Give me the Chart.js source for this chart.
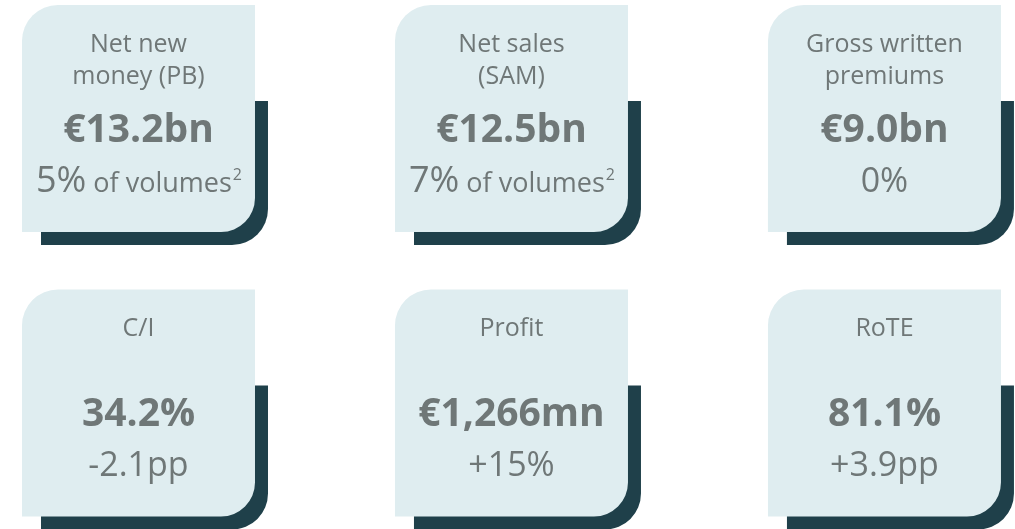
<!DOCTYPE html>
<html>
<head>
<meta charset="utf-8">
<script src="https://cdn.jsdelivr.net/npm/chart.js@4/dist/chart.umd.min.js"></script>
<style>
  html, body { margin: 0; padding: 0; background: #ffffff; }
  #wrap { width: 1015px; height: 529px; position: relative; }
</style>
</head>
<body>
<div id="wrap"><canvas id="myChart"></canvas></div>
<script>
// KPI cards: one point per card, placed on a 3 x 2 grid
var cardColumns = [0, 1, 2, 0, 1, 2];
var cardRows = [0, 0, 0, 1, 1, 1];
var cardTitles = [['Net new', 'money (PB)'], ['Net sales', '(SAM)'], ['Gross written', 'premiums'], ['C/I'], ['Profit'], ['RoTE']];
var cardValues = ['€13.2bn', '€12.5bn', '€9.0bn', '34.2%', '€1,266mn', '81.1%'];
var cardChanges = ['5%', '7%', '0%', '-2.1pp', '+15%', '+3.9pp'];
var changeNotes = ['of volumes', 'of volumes', '', '', '', ''];
var noteMarks = ['2', '2', '', '', '', ''];

var lightColor = '#dfedf0';
var darkColor = '#1f404a';
var textColor = '#6f7777';
var fontName = '"Open Sans", "Noto Sans", sans-serif';

function roundedBox(ctx, x, y, w, h, r) {
    // r = [topLeft, topRight, bottomRight, bottomLeft]
    ctx.beginPath();
    ctx.moveTo(x + r[0], y);
    ctx.lineTo(x + w - r[1], y);
    ctx.arcTo(x + w, y, x + w, y + r[1], r[1]);
    ctx.lineTo(x + w, y + h - r[2]);
    ctx.arcTo(x + w, y + h, x + w - r[2], y + h, r[2]);
    ctx.lineTo(x + r[3], y + h);
    ctx.arcTo(x, y + h, x, y + h - r[3], r[3]);
    ctx.lineTo(x, y + r[0]);
    ctx.arcTo(x, y, x + r[0], y, r[0]);
    ctx.closePath();
    ctx.fill();
}

var cardPlugin = {
    id: 'kpiCards',
    afterDatasetsDraw: function (chart) {
        var ctx = chart.ctx;
        var meta = chart.getDatasetMeta(0);
        var w = 233, h = 227;
        meta.data.forEach(function (pt, i) {
            var left = pt.x - w / 2;
            var top = pt.y - h / 2;
            ctx.save();
            // dark block behind the card
            ctx.fillStyle = darkColor;
            roundedBox(ctx, left + 19, top + 96, w - 6, h - 83, [0, 0, 36, 0]);
            // card
            ctx.fillStyle = lightColor;
            roundedBox(ctx, left, top, w, h, [36, 0, 34, 0]);

            ctx.fillStyle = textColor;
            ctx.textAlign = 'center';
            ctx.textBaseline = 'alphabetic';
            ctx.font = '25px ' + fontName;
            cardTitles[i].forEach(function (line, k) {
                ctx.fillText(line, pt.x, top + 47 + k * 32);
            });

            ctx.font = 'bold 39px ' + fontName;
            ctx.fillText(cardValues[i], pt.x, top + 137);

            var subY = top + 187;
            if (changeNotes[i]) {
                ctx.font = '36px ' + fontName;
                var w1 = ctx.measureText(cardChanges[i]).width;
                ctx.font = '27px ' + fontName;
                var w2 = ctx.measureText(' ' + changeNotes[i]).width;
                ctx.font = '16px ' + fontName;
                var w3 = ctx.measureText(noteMarks[i]).width;
                var x0 = pt.x - (w1 + w2 + w3) / 2;
                ctx.textAlign = 'left';
                ctx.font = '36px ' + fontName;
                ctx.fillText(cardChanges[i], x0, subY);
                ctx.font = '27px ' + fontName;
                ctx.fillText(' ' + changeNotes[i], x0 + w1, subY);
                ctx.font = '16px ' + fontName;
                ctx.fillText(noteMarks[i], x0 + w1 + w2 + 1, subY - 12);
            } else {
                ctx.font = '34px ' + fontName;
                ctx.fillText(cardChanges[i], pt.x, subY);
            }
            ctx.restore();
        });
    }
};

function setChart() {
    var ctx = document.getElementById('myChart');
    var points = cardColumns.map(function (c, i) {
        return { x: c, y: cardRows[i] };
    });
    new Chart(ctx, {
        type: 'scatter',
        data: {
            datasets: [{
                label: 'KPIs',
                data: points,
                pointRadius: 0,
                pointHoverRadius: 0
            }]
        },
        options: {
            responsive: true,
            maintainAspectRatio: false,
            animation: false,
            layout: { padding: 0 },
            plugins: {
                legend: { display: false },
                tooltip: { enabled: false }
            },
            scales: {
                x: { type: 'linear', min: -0.3713, max: 2.35, display: false },
                y: { type: 'linear', min: -0.4165, max: 1.443, reverse: true, display: false }
            }
        },
        plugins: [cardPlugin]
    });
}

setChart();
</script>
</body>
</html>
